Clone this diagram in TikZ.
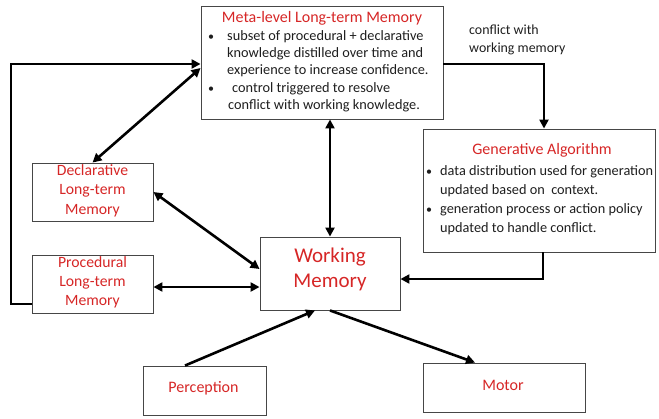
\documentclass[tikz,border=0pt]{standalone}
\usepackage{fontspec}
\setmainfont{Carlito}
\usetikzlibrary{arrows.meta,calc}
\definecolor{tred}{RGB}{214,38,38}
\definecolor{bordergray}{RGB}{70,70,70}
\definecolor{bodytext}{RGB}{30,30,30}
\begin{document}
\begin{tikzpicture}[x=1pt,y=-1pt,
  box/.style={draw=bordergray,line width=0.9pt,rectangle,inner sep=0pt},
  conn/.style={line width=2.6pt,-{Triangle[length=9pt,width=9pt]}},
  biconn/.style={line width=2.6pt,{Triangle[length=9pt,width=9pt]}-{Triangle[length=9pt,width=9pt]}},
  body/.style={font=\fontsize{14.3}{16}\selectfont,text=bodytext,inner sep=0pt,anchor=mid west},
  bul/.style={font=\fontsize{12}{15}\selectfont,text=bodytext,inner sep=0pt,anchor=mid},
  ttl/.style={font=\fontsize{16}{18}\selectfont,text=tred,inner sep=0pt,anchor=mid},
  lbl/.style={font=\fontsize{15.7}{18}\selectfont,text=tred,inner sep=0pt,anchor=mid}
]
\useasboundingbox (0,0) rectangle (659,418);

% boxes
\node[box,minimum width=242pt,minimum height=113pt] (meta) at (322,62.5) {};
\node[box,minimum width=232pt,minimum height=123pt] (gen) at (539,190.5) {};
\node[box,minimum width=121pt,minimum height=58pt] (decl) at (92.5,192) {};
\node[box,minimum width=121pt,minimum height=58pt] (proc) at (92.5,284) {};
\node[box,minimum width=140pt,minimum height=73pt] (wm) at (330,273.5) {};
\node[box,minimum width=123pt,minimum height=49pt] (perc) at (204.5,390.5) {};
\node[box,minimum width=162pt,minimum height=49pt] (motor) at (504,387.5) {};

% meta text
\node[ttl] (mt) at (322,20) {Meta-level Long-term Memory};
\node[bul] (mb1) at (211,38) {•};
\node[body] (m1) at (227,38) {subset of procedural + declarative};
\node[body] (m2) at (227,55) {knowledge distilled over time and};
\node[body] (m3) at (227,72) {experience to increase confidence.};
\node[bul] (mb2) at (211,90) {•};
\node[body] (m4) at (232,90) {control triggered to resolve};
\node[body] (m5) at (228,107) {conflict with working knowledge.};

% generative text
\node[ttl] (gt) at (542,152) {Generative Algorithm};
\node[bul] (gb1) at (429,173) {•};
\node[body] (g1) at (440,173) {data distribution used for generation};
\node[body] (g2) at (440,192) {updated based on\ \ context.};
\node[bul] (gb2) at (429,211) {•};
\node[body] (g3) at (440,211) {generation process or action policy};
\node[body] (g4) at (440,230) {updated to handle conflict.};

% small boxes text
\node[lbl] (d1) at (92.5,173) {Declarative};
\node[lbl] (d2) at (92.5,192) {Long-term};
\node[lbl] (d3) at (92.5,212) {Memory};
\node[lbl] (p1) at (92.5,265) {Procedural};
\node[lbl] (p2) at (92.5,284) {Long-term};
\node[lbl] (p3) at (92.5,303) {Memory};
\node[font=\fontsize{21}{24}\selectfont,text=tred,inner sep=0pt,anchor=mid] (w1) at (330,260) {Working};
\node[font=\fontsize{21}{24}\selectfont,text=tred,inner sep=0pt,anchor=mid] (w2) at (330,285) {Memory};
\node[lbl,font=\fontsize{16}{18}\selectfont] (pt) at (203.5,390) {Perception};
\node[lbl,font=\fontsize{16}{18}\selectfont] (mot) at (503,388) {Motor};

% conflict label
\node[body,font=\fontsize{13.9}{16}\selectfont] (c1) at (469,32) {conflict with};
\node[body,font=\fontsize{13.9}{16}\selectfont] (c2) at (469,50) {working memory};

% connectors
\draw[conn] (proc.west |- 0,304) -- (11,304) -- (11,64) -- (meta.west |- 0,64);
\draw[biconn] (meta.west |- 0,68) -- (decl.north);
\draw[biconn] (wm.north |- meta.south) -- (wm.north);
\draw[biconn] (decl.east) -- (wm.west |- 0,269);
\draw[biconn] (proc.east |- 0,287) -- (wm.west |- 0,287);
\draw[conn] (meta.east |- 0,64) -| (gen.north -| 544,0);
\draw[conn] (gen.south -| 543,0) |- (wm.east |- 0,279);
\draw[conn] (perc.north -| 185,0) -- (wm.south -| 315,0);
\draw[conn] (wm.south) -- (motor.north -| 475,0);
\end{tikzpicture}
\end{document}
